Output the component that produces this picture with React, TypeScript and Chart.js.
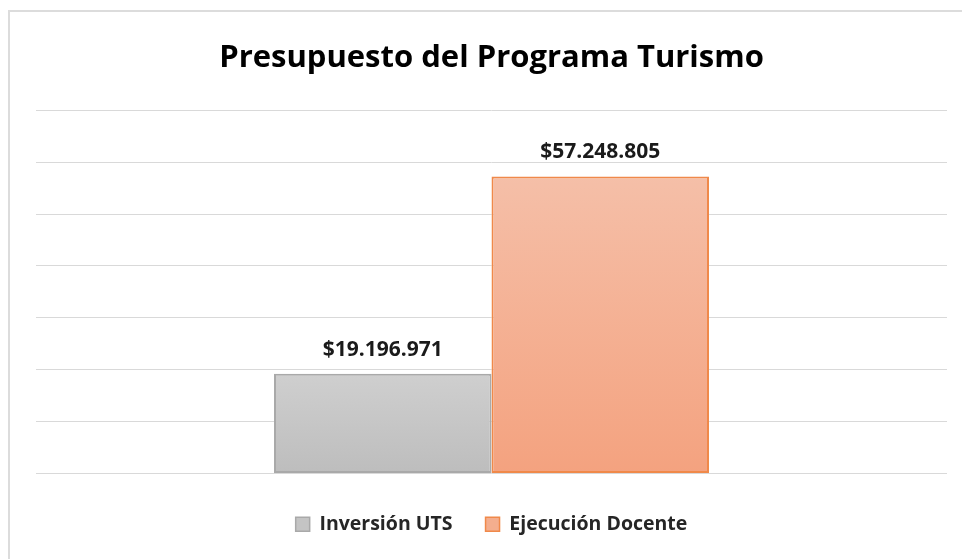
import React, { useEffect, useRef } from "react";
import { Chart, registerables } from "chart.js";

Chart.register(...registerables);

const categories = ["Presupuesto"];
const seriesNames = ["Inversión UTS", "Ejecución Docente"];
const inversionUTS = [19196971];
const ejecucionDocente = [57248805];
const yMax = 70000000;
const yStep = 10000000;
const titleText = "Presupuesto del Programa Turismo";

const FONT = "'Open Sans', Lato, sans-serif";

const fmt = (v: number) =>
  "$" + Math.round(v).toString().replace(/\B(?=(\d{3})+(?!\d))/g, ".");

const gradientFill = (top: string, bottom: string, fallback: string) => (ctx: any) => {
  const chart = ctx.chart;
  const area = chart.chartArea;
  const y = chart.scales?.y;
  if (!area || !y || ctx.raw == null) return fallback;
  const yTop = y.getPixelForValue(ctx.raw);
  const yBot = y.getPixelForValue(0);
  if (!isFinite(yTop) || !isFinite(yBot) || yTop === yBot) return fallback;
  const g = chart.ctx.createLinearGradient(0, yTop, 0, yBot);
  g.addColorStop(0, top);
  g.addColorStop(1, bottom);
  return g;
};

const valueLabels = {
  id: "valueLabels",
  afterDatasetsDraw(chart: any) {
    const ctx = chart.ctx;
    ctx.save();
    ctx.font = "bold 21px " + FONT;
    ctx.fillStyle = "#1a1a1a";
    ctx.textAlign = "center";
    ctx.textBaseline = "middle";
    chart.data.datasets.forEach((ds: any, i: number) => {
      const meta = chart.getDatasetMeta(i);
      meta.data.forEach((el: any, j: number) => {
        ctx.fillText(fmt(ds.data[j]), el.x, el.y - 24);
      });
    });
    ctx.restore();
  },
};

export default function App() {
  const ref = useRef<HTMLCanvasElement>(null);
  useEffect(() => {
    if (!ref.current) return;
    const chart = new Chart(ref.current, {
      type: "bar",
      data: {
        labels: categories,
        datasets: [
          {
            label: seriesNames[0],
            data: inversionUTS,
            backgroundColor: gradientFill("#cfcfcf", "#bdbdbd", "#c6c6c6"),
            borderColor: "#a9a9a9",
            borderWidth: 2,
            borderSkipped: false,
          },
          {
            label: seriesNames[1],
            data: ejecucionDocente,
            backgroundColor: gradientFill("#f5bfa8", "#f4a27f", "#f4b093"),
            borderColor: "#f0894a",
            borderWidth: 2,
            borderSkipped: false,
          },
        ],
      },
      options: {
        responsive: false,
        animation: false,
        layout: { padding: { left: 36, right: 15, top: 0, bottom: 15 } },
        datasets: {
          bar: { categoryPercentage: 0.4775, barPercentage: 1 },
        },
        scales: {
          x: {
            display: true,
            ticks: { display: false },
            grid: { display: false, drawTicks: false },
            border: { display: false },
            afterFit: (scale: any) => {
              scale.height = 8;
            },
          },
          y: {
            min: 0,
            max: yMax,
            ticks: { display: false, stepSize: yStep },
            grid: { color: "#d9d9d9", lineWidth: 1, drawTicks: false },
            border: { display: false },
          },
        },
        plugins: {
          title: {
            display: true,
            text: titleText,
            color: "#000000",
            font: { family: FONT, size: 31, weight: "bold" },
            padding: { top: 40, bottom: 33 },
          },
          legend: {
            position: "bottom",
            labels: {
              boxWidth: 14,
              boxHeight: 14,
              padding: 33,
              color: "#262626",
              font: { family: FONT, size: 19.5, weight: "bold" },
              generateLabels: () => [
                { text: seriesNames[0], fillStyle: "#c4c4c4", strokeStyle: "#a9a9a9", lineWidth: 1.5, datasetIndex: 0, fontColor: "#262626" },
                { text: seriesNames[1], fillStyle: "#f4ae8e", strokeStyle: "#f0894a", lineWidth: 1.5, datasetIndex: 1, fontColor: "#262626" },
              ],
            },
          },
          tooltip: { enabled: false },
        },
      },
      plugins: [valueLabels],
    });
    return () => chart.destroy();
  }, []);
  return (
    <div style={{ position: "fixed", left: 0, top: 0, width: 962, height: 559, background: "#fff" }}>
      <div
        style={{
          position: "absolute",
          left: 8,
          top: 10,
          width: 960,
          height: 560,
          borderLeft: "2px solid #dcdcdc",
          borderTop: "2px solid #dcdcdc",
        }}
      />
      <canvas ref={ref} width={962} height={559} style={{ position: "absolute", left: 0, top: 0 }} />
    </div>
  );
}
